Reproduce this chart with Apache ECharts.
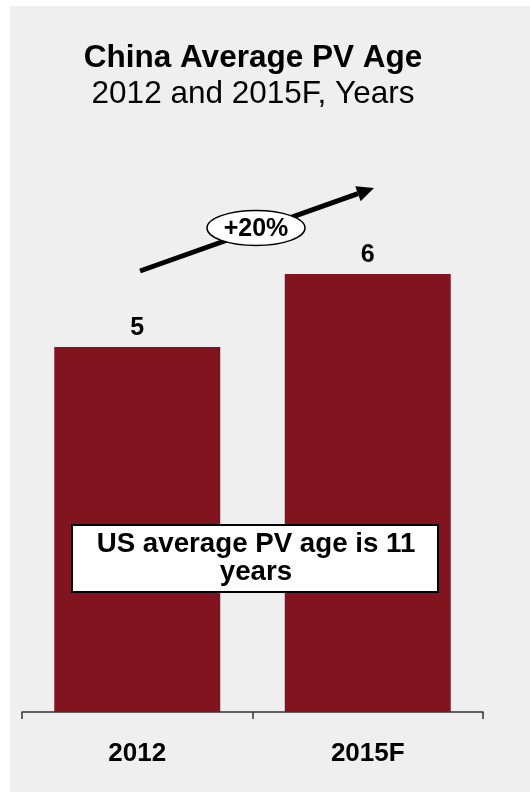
<!DOCTYPE html>
<html>
<head>
<meta charset="utf-8">
<script src="https://cdn.jsdelivr.net/npm/echarts@6/dist/echarts.min.js"></script>
<style>
  html, body { margin: 0; padding: 0; background: #ffffff; }
  #chart { width: 530px; height: 792px; }
</style>
</head>
<body>
<div id="chart"></div>
<script>
// Average passenger-vehicle age in China, years
const categories = ['2012', '2015F'];
const ageYears = [5, 6];
const titleText = 'China Average PV Age';
const subtitleText = '2012 and 2015F, Years';
const growthText = '+20%';
const noteText = 'US average PV age is 11\nyears';

const FONT = '"Liberation Sans", Arial, sans-serif';
const BAR_COLOR = '#82141f';

const chart = echarts.init(document.getElementById('chart'), null, { renderer: 'canvas' });

// Arrow geometry for the growth callout
const tip = [374, 188];
const tail = [140, 271];
const dx = tip[0] - tail[0], dy = tip[1] - tail[1];
const len = Math.sqrt(dx * dx + dy * dy);
const ux = dx / len, uy = dy / len;
const headLen = 17, headHalf = 8;
const base = [tip[0] - ux * headLen, tip[1] - uy * headLen];
const nx = -uy, ny = ux;

chart.setOption({
  backgroundColor: '#ffffff',
  animation: false,
  grid: { left: 22, right: 47, top: 128, bottom: 80 },
  xAxis: {
    type: 'category',
    data: categories,
    axisLine: { lineStyle: { color: '#333333', width: 1.5 } },
    axisTick: { show: true, length: 7, lineStyle: { color: '#333333', width: 1.5 } },
    axisLabel: {
      margin: 29,
      color: '#000000',
      fontFamily: FONT,
      fontWeight: 'bold',
      fontSize: 26
    }
  },
  yAxis: {
    type: 'value',
    min: 0,
    max: 8,
    show: false,
    splitLine: { show: false }
  },
  series: [{
    type: 'bar',
    data: ageYears,
    barWidth: '72%',
    itemStyle: { color: BAR_COLOR },
    label: {
      show: true,
      position: 'top',
      distance: 6,
      color: '#000000',
      fontFamily: FONT,
      fontWeight: 'bold',
      fontSize: 25
    },
    z: 2
  }],
  graphic: [
    {
      type: 'rect',
      silent: true,
      z: -100,
      shape: { x: 10, y: 6, width: 520, height: 786 },
      style: { fill: '#efefef' }
    },
    {
      type: 'text',
      x: 253, y: 58,
      style: {
        text: titleText,
        textAlign: 'center', textVerticalAlign: 'middle',
        fontFamily: FONT, fontWeight: 'bold', fontSize: 31.5, fill: '#000000'
      }
    },
    {
      type: 'text',
      x: 253, y: 94,
      style: {
        text: subtitleText,
        textAlign: 'center', textVerticalAlign: 'middle',
        fontFamily: FONT, fontWeight: 'normal', fontSize: 31.5, fill: '#000000'
      }
    },
    {
      type: 'line',
      z: 100,
      shape: { x1: tail[0], y1: tail[1], x2: base[0], y2: base[1] },
      style: { stroke: '#000000', lineWidth: 5 }
    },
    {
      type: 'polygon',
      z: 100,
      shape: {
        points: [
          tip,
          [base[0] + nx * headHalf, base[1] + ny * headHalf],
          [base[0] - nx * headHalf, base[1] - ny * headHalf]
        ]
      },
      style: { fill: '#000000' }
    },
    {
      type: 'ellipse',
      z: 101,
      shape: { cx: 256, cy: 228, rx: 49, ry: 17.5 },
      style: { fill: '#ffffff', stroke: '#000000', lineWidth: 1.5 }
    },
    {
      type: 'text',
      z: 102,
      x: 256, y: 229,
      style: {
        text: growthText,
        textAlign: 'center', textVerticalAlign: 'middle',
        fontFamily: FONT, fontWeight: 'bold', fontSize: 25, fill: '#000000'
      }
    },
    {
      type: 'rect',
      z: 100,
      shape: { x: 72, y: 525, width: 366, height: 67 },
      style: { fill: '#ffffff', stroke: '#000000', lineWidth: 2 }
    },
    {
      type: 'text',
      z: 101,
      x: 256, y: 558,
      style: {
        text: noteText,
        textAlign: 'center', textVerticalAlign: 'middle',
        lineHeight: 28,
        fontFamily: FONT, fontWeight: 'bold', fontSize: 27.7, fill: '#000000'
      }
    }
  ]
});
</script>
</body>
</html>
